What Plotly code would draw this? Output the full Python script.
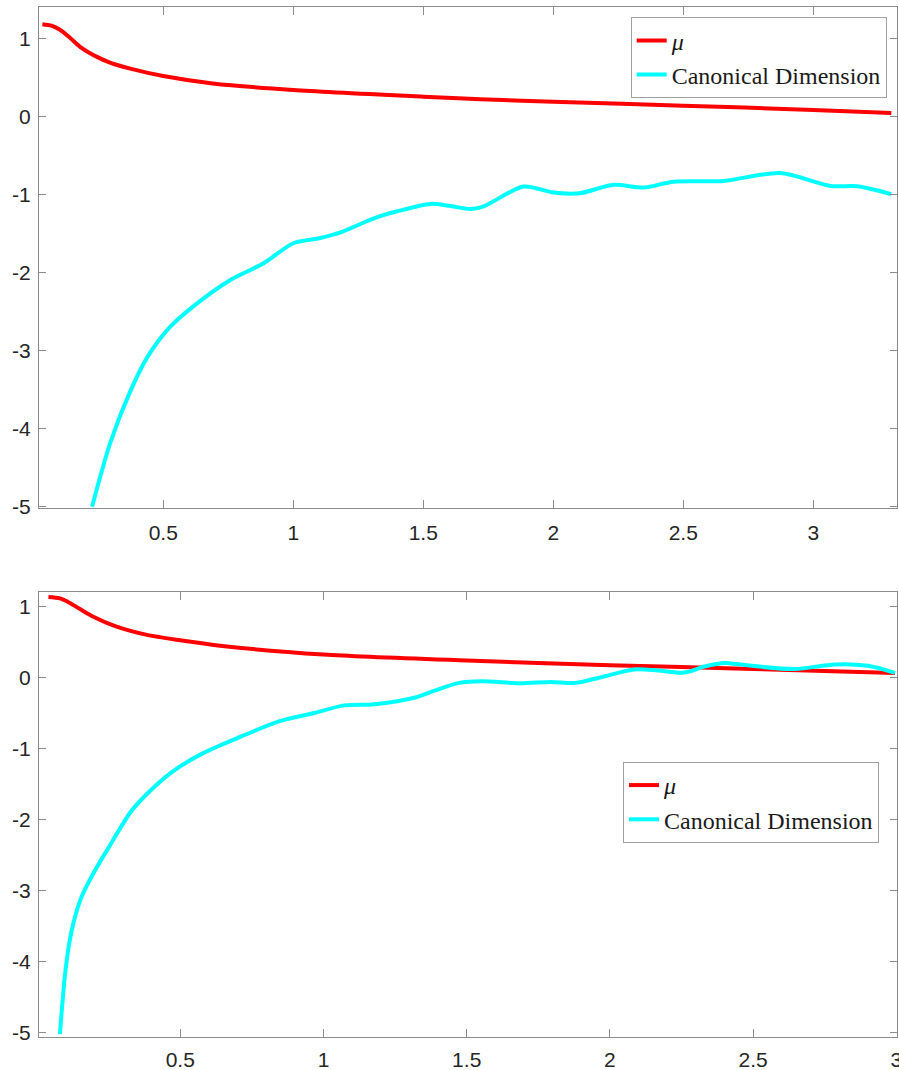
import plotly.graph_objects as go

# ---- top panel data ----
top_mu_x = [0.035, 0.07, 0.104, 0.14, 0.18, 0.245, 0.30, 0.373, 0.50, 0.69, 1.0, 1.5, 1.72, 2.0, 2.5, 3.0, 3.3]
top_mu_y = [1.19, 1.17, 1.115, 1.02, 0.90, 0.77, 0.69, 0.62, 0.525, 0.43, 0.346, 0.26, 0.227, 0.195, 0.145, 0.09, 0.05]

top_cd_x = [0.226, 0.296, 0.373, 0.437, 0.527, 0.63, 0.758, 0.886, 1.0, 1.10, 1.19, 1.31, 1.40,
            1.527, 1.60, 1.68, 1.73, 1.886, 2.0, 2.1, 2.232, 2.347, 2.463, 2.655, 2.873, 3.065,
            3.168, 3.30]
top_cd_y = [-5.0, -4.18, -3.52, -3.09, -2.69, -2.39, -2.09, -1.876, -1.62, -1.555, -1.47, -1.30,
            -1.21, -1.115, -1.14, -1.18, -1.15, -0.893, -0.97, -0.98, -0.87, -0.906, -0.83, -0.82,
            -0.72, -0.885, -0.89, -0.99]

# ---- bottom panel data ----
bot_mu_x = [0.04, 0.08, 0.113, 0.15, 0.193, 0.273, 0.38, 0.5, 0.647, 1.0, 1.5, 2.0, 2.5, 2.995]
bot_mu_y = [1.14, 1.12, 1.06, 0.97, 0.87, 0.73, 0.61, 0.53, 0.45, 0.33, 0.245, 0.18, 0.127, 0.07]

bot_cd_x = [0.08, 0.10, 0.12, 0.153, 0.193, 0.247, 0.327, 0.38, 0.473, 0.58, 0.713, 0.847, 0.967,
            1.073, 1.18, 1.313, 1.38, 1.473, 1.553, 1.687, 1.793, 1.88, 1.969, 2.085, 2.167,
            2.26, 2.33, 2.40, 2.494, 2.645, 2.785, 2.90, 2.995]
bot_cd_y = [-5.02, -4.10, -3.58, -3.11, -2.78, -2.41, -1.89, -1.65, -1.32, -1.06, -0.825, -0.61,
            -0.495, -0.387, -0.37, -0.283, -0.19, -0.07, -0.047, -0.075, -0.057, -0.07, 0.01,
            0.12, 0.105, 0.075, 0.16, 0.21, 0.17, 0.125, 0.19, 0.17, 0.07]

x_tick_vals = [0.5, 1, 1.5, 2, 2.5, 3]
x_tick_text = ["0.5", "1", "1.5", "2", "2.5", "3"]
y_tick_vals = [-5, -4, -3, -2, -1, 0, 1]
y_tick_text = ["-5", "-4", "-3", "-2", "-1", "0", "1"]

series_names = ["<i>μ</i>", "Canonical Dimension"]
RED = "#ff0000"
CYAN = "#00ffff"

fig = go.Figure()
fig.add_trace(go.Scatter(x=top_mu_x, y=top_mu_y, mode="lines", name=series_names[0],
                         line=dict(color=RED, width=4, shape="spline", smoothing=0.8),
                         xaxis="x", yaxis="y", legend="legend"))
fig.add_trace(go.Scatter(x=top_cd_x, y=top_cd_y, mode="lines", name=series_names[1],
                         line=dict(color=CYAN, width=4, shape="spline", smoothing=0.8),
                         xaxis="x", yaxis="y", legend="legend"))
fig.add_trace(go.Scatter(x=bot_mu_x, y=bot_mu_y, mode="lines", name=series_names[0],
                         line=dict(color=RED, width=4, shape="spline", smoothing=0.8),
                         xaxis="x2", yaxis="y2", legend="legend2"))
fig.add_trace(go.Scatter(x=bot_cd_x, y=bot_cd_y, mode="lines", name=series_names[1],
                         line=dict(color=CYAN, width=4, shape="spline", smoothing=0.8),
                         xaxis="x2", yaxis="y2", legend="legend2"))

AX = "#8c8c8c"
tickfont = dict(family="Liberation Sans, Arial, sans-serif", size=21, color="#262626")
common = dict(showgrid=False, zeroline=False, showline=True, linecolor=AX, linewidth=1.2,
              mirror="ticks", ticks="inside", tickcolor=AX, tickwidth=1, tickfont=tickfont,
              automargin=False, ticklabeloverflow="allow")

legend_font = dict(family="Liberation Serif, Times New Roman, serif", size=24, color="#1a1a1a")

fig.update_layout(
    width=899, height=1070,
    margin=dict(l=39, r=2, t=7, b=33),
    paper_bgcolor="white", plot_bgcolor="white",
    xaxis=dict(domain=[0, 1], range=[0.022, 3.322], anchor="y",
               tickvals=x_tick_vals, ticktext=x_tick_text, ticklen=8, ticklabelstandoff=6, **common),
    yaxis=dict(domain=[0.5136, 1.0], range=[-5.015, 1.41], anchor="x",
               tickvals=y_tick_vals, ticktext=y_tick_text, ticklen=7, ticklabelstandoff=3, **common),
    xaxis2=dict(domain=[0, 1], range=[0.007, 3.002], anchor="y2",
                tickvals=x_tick_vals, ticktext=x_tick_text, ticklen=8, ticklabelstandoff=4, **common),
    yaxis2=dict(domain=[0, 0.432], range=[-5.06, 1.21], anchor="x2",
                tickvals=y_tick_vals, ticktext=y_tick_text, ticklen=7, ticklabelstandoff=3, **common),
    legend=dict(x=0.988, y=0.990, xanchor="right", yanchor="top",
                bgcolor="white", bordercolor="#a0a0a0", borderwidth=1,
                font=legend_font, tracegroupgap=0, itemwidth=30),
    legend2=dict(x=0.979, y=0.267, xanchor="right", yanchor="top",
                 bgcolor="white", bordercolor="#a0a0a0", borderwidth=1,
                 font=legend_font, tracegroupgap=0, itemwidth=30),
    showlegend=True,
)

fig.write_html("out.html", config={"displayModeBar": False},
               post_script="document.body.style.margin='0';document.body.style.overflow='hidden';")
